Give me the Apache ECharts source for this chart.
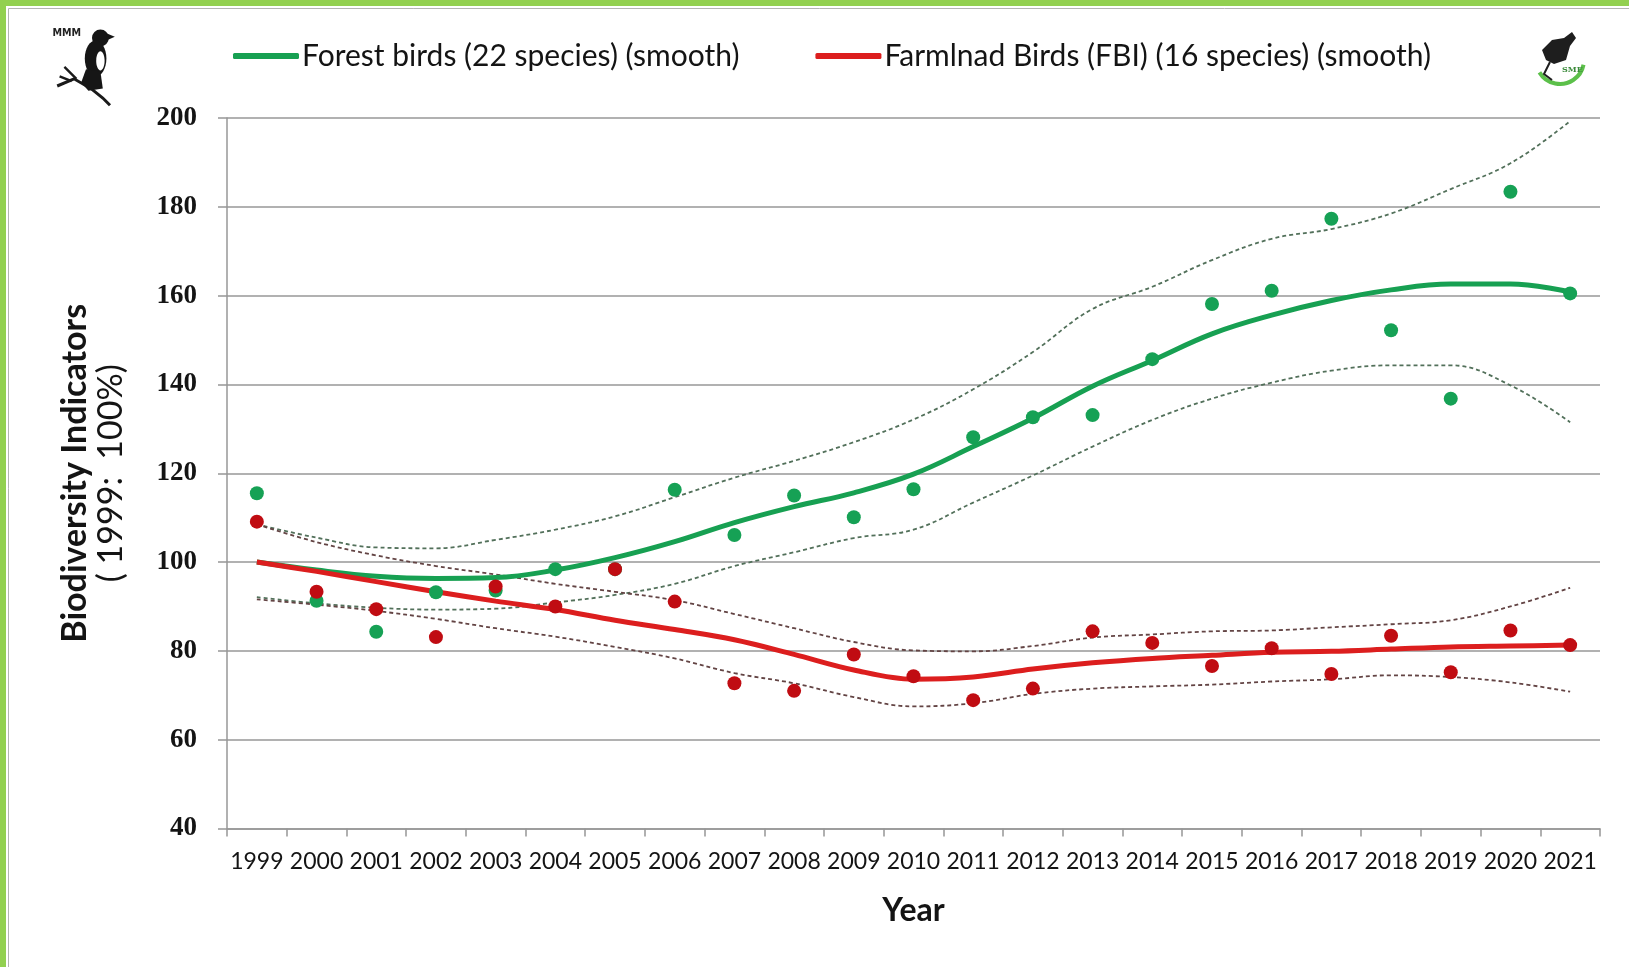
<!DOCTYPE html>
<html>
<head>
<meta charset="utf-8">
<title>Biodiversity Indicators</title>
<script src="https://cdn.jsdelivr.net/npm/echarts@6/dist/echarts.min.js"></script>
<style>
  html, body { margin: 0; padding: 0; background: #ffffff; }
  #chart { width: 1629px; height: 967px; }
</style>
</head>
<body>
<div id="chart"></div>
<script>
// Survey years
const years = ['1999','2000','2001','2002','2003','2004','2005','2006','2007','2008','2009','2010',
               '2011','2012','2013','2014','2015','2016','2017','2018','2019','2020','2021'];

// Forest birds (22 species): yearly index, smoothed trend and its confidence band
const forestIndex = [115.5, 91.3, 84.3, 93.2, 93.6, 98.4, 98.4, 116.3, 106.1, 115.0, 110.1, 116.4,
                     128.1, 132.6, 133.1, 145.7, 158.1, 161.1, 177.3, 152.2, 136.8, 183.4, 160.5];
const forestTrend = [100.0, 98.2, 96.8, 96.3, 96.5, 98.2, 101.0, 104.6, 108.9, 112.5, 115.6, 119.8,
                     126.0, 132.4, 139.6, 145.4, 151.4, 155.6, 158.9, 161.3, 162.6, 162.6, 160.8];
const forestUpper = [108.5, 105.5, 103.3, 103.1, 105.0, 107.3, 110.3, 114.6, 119.0, 122.8, 127.0, 132.1,
                     138.9, 147.3, 157.0, 162.0, 168.0, 172.8, 175.0, 178.5, 184.0, 189.8, 199.3];
const forestLower = [92.1, 90.7, 89.7, 89.3, 89.5, 90.9, 92.6, 95.1, 99.1, 102.2, 105.4, 107.3,
                     113.4, 119.5, 126.0, 132.0, 136.8, 140.4, 143.1, 144.3, 144.3, 139.8, 131.5];

// Farmland birds (FBI, 16 species): yearly index, smoothed trend and its confidence band
const farmIndex = [109.1, 93.3, 89.4, 83.1, 94.5, 90.0, 98.4, 91.1, 72.7, 71.0, 79.2, 74.3,
                   68.9, 71.5, 84.4, 81.8, 76.6, 80.6, 74.8, 83.4, 75.2, 84.6, 81.3];
const farmTrend = [100.0, 97.9, 95.6, 93.3, 91.2, 89.3, 86.9, 84.8, 82.5, 79.2, 75.7, 73.6,
                   74.1, 75.9, 77.3, 78.3, 79.0, 79.7, 79.9, 80.4, 80.9, 81.1, 81.3];
const farmUpper = [108.5, 104.5, 101.5, 99.1, 97.2, 95.1, 93.3, 91.4, 88.3, 85.1, 82.0, 80.1,
                   79.9, 81.1, 83.0, 83.7, 84.4, 84.6, 85.3, 86.0, 86.9, 90.0, 94.2];
const farmLower = [91.6, 90.4, 89.0, 87.2, 85.1, 83.2, 80.9, 78.3, 75.0, 72.7, 69.6, 67.5,
                   68.2, 70.3, 71.5, 72.0, 72.4, 73.1, 73.6, 74.5, 74.1, 72.9, 70.8];

// Value axis ticks
const yMin = 40, yMax = 200, yStep = 20;

const GREEN_LINE = '#17a052';
const GREEN_DOT = '#16a155';
const RED_LINE = '#dc1e1e';
const RED_DOT = '#c00c12';
const GRID_GRAY = '#979797';
const TEXT = '#141414';

const chart = echarts.init(document.getElementById('chart'), null, { renderer: 'canvas' });

// dashed confidence-band line
function bandSeries(name, data, color) {
  return {
    name: name,
    type: 'line',
    data: data,
    smooth: 0.4,
    symbol: 'none',
    silent: true,
    z: 2,
    lineStyle: { color: color, width: 1.8, type: [4, 3] }
  };
}

const option = {
  backgroundColor: '#ffffff',
  animation: false,
  textStyle: { fontFamily: 'Lato, "Liberation Sans", sans-serif' },
  grid: { left: 227, right: 29, top: 118, bottom: 138.5, containLabel: false },
  legend: {
    data: ['Forest birds (22 species) (smooth)', 'Farmlnad Birds (FBI) (16 species) (smooth)'],
    left: 228,
    top: 36,
    icon: 'roundRect',
    itemWidth: 66,
    itemHeight: 6,
    itemGap: 76,
    textStyle: { fontSize: 30, color: TEXT, fontFamily: 'Lato, sans-serif', padding: [0, 0, 0, -2] }
  },
  xAxis: {
    type: 'category',
    data: years,
    boundaryGap: true,
    name: 'Year',
    nameLocation: 'middle',
    nameGap: 66,
    nameTextStyle: { fontSize: 32, fontWeight: 'bold', color: TEXT, fontFamily: 'Lato, sans-serif' },
    axisLine: { show: true, lineStyle: { color: GRID_GRAY, width: 1.5 } },
    axisTick: { show: true, alignWithLabel: false, length: 8, lineStyle: { color: GRID_GRAY, width: 1.5 } },
    axisLabel: { fontSize: 23, color: TEXT, margin: 22, interval: 0, fontFamily: 'Lato, sans-serif' },
    splitLine: { show: false }
  },
  yAxis: {
    type: 'value',
    min: yMin,
    max: yMax,
    interval: yStep,
    name: '{a|Biodiversity Indicators}\n{b|( 1999:  100%)}',
    nameLocation: 'middle',
    nameRotate: 90,
    nameGap: 98,
    nameTextStyle: {
      color: TEXT,
      align: 'center',
      rich: {
        a: { fontSize: 34, fontWeight: 'bold', lineHeight: 36, color: TEXT, fontFamily: 'Lato, sans-serif', align: 'center' },
        b: { fontSize: 34, fontWeight: 'normal', lineHeight: 36, color: TEXT, fontFamily: 'Lato, sans-serif', align: 'center' }
      }
    },
    axisLine: { show: true, lineStyle: { color: GRID_GRAY, width: 1.5 } },
    axisTick: { show: true, length: 9, lineStyle: { color: GRID_GRAY, width: 1.5 } },
    axisLabel: {
      fontSize: 27, fontWeight: 'bold', color: TEXT, margin: 30,
      fontFamily: '"Liberation Serif", "DejaVu Serif", serif'
    },
    splitLine: { show: true, lineStyle: { color: GRID_GRAY, width: 1.5 } }
  },
  series: [
    bandSeries('Forest upper', forestUpper, '#52705a'),
    bandSeries('Forest lower', forestLower, '#52705a'),
    bandSeries('Farmland upper', farmUpper, '#634444'),
    bandSeries('Farmland lower', farmLower, '#634444'),
    {
      name: 'Forest birds (22 species) (smooth)',
      type: 'line',
      data: forestTrend,
      smooth: 0.4,
      symbol: 'none',
      z: 3,
      itemStyle: { color: GREEN_LINE },
      lineStyle: { color: GREEN_LINE, width: 5 }
    },
    {
      name: 'Farmlnad Birds (FBI) (16 species) (smooth)',
      type: 'line',
      data: farmTrend,
      smooth: 0.35,
      symbol: 'none',
      z: 3,
      itemStyle: { color: RED_LINE },
      lineStyle: { color: RED_LINE, width: 5 }
    },
    {
      name: 'Forest birds (22 species)',
      type: 'scatter',
      data: forestIndex,
      symbol: 'circle',
      symbolSize: 14,
      z: 4,
      itemStyle: { color: GREEN_DOT, opacity: 1 }
    },
    {
      name: 'Farmland birds (16 species)',
      type: 'scatter',
      data: farmIndex,
      symbol: 'circle',
      symbolSize: 14,
      z: 5,
      itemStyle: { color: RED_DOT, opacity: 1 }
    }
  ],
  graphic: [
    // page frame
    { type: 'rect', shape: { x: 0, y: 0, width: 1629, height: 6 }, style: { fill: '#92d050' }, z: 10, silent: true },
    { type: 'rect', shape: { x: 0, y: 0, width: 6, height: 967 }, style: { fill: '#92d050' }, z: 10, silent: true },
    { type: 'rect', shape: { x: 8.5, y: 8.5, width: 1640, height: 1000 }, style: { fill: null, stroke: '#b4b4b4', lineWidth: 1 }, z: 10, silent: true },
    // society emblem, top left
    {
      type: 'group', x: 50, y: 26, scaleX: 1.2, scaleY: 1.2, silent: true,
      children: [
        { type: 'text', x: 2, y: 2, style: { text: 'MMM', fontSize: 8, fontWeight: 'bold', fill: '#222', fontFamily: 'DejaVu Sans' } },
        { type: 'polyline', shape: { points: [[6, 50], [20, 44], [34, 52], [44, 60], [50, 66]] }, style: { stroke: '#1a1a1a', lineWidth: 2.5, fill: null } },
        { type: 'polyline', shape: { points: [[12, 34], [22, 44]] }, style: { stroke: '#1a1a1a', lineWidth: 2, fill: null } },
        { type: 'polyline', shape: { points: [[8, 42], [18, 46]] }, style: { stroke: '#1a1a1a', lineWidth: 2, fill: null } },
        { type: 'circle', shape: { cx: 42, cy: 10, r: 7 }, style: { fill: '#161616' } },
        { type: 'polygon', shape: { points: [[47, 6], [54, 9], [47, 12]] }, style: { fill: '#161616' } },
        { type: 'ellipse', shape: { cx: 38, cy: 27, rx: 9, ry: 15 }, style: { fill: '#161616' } },
        { type: 'ellipse', shape: { cx: 42, cy: 29, rx: 3.5, ry: 8 }, style: { fill: '#ffffff' } },
        { type: 'polygon', shape: { points: [[30, 36], [42, 38], [44, 52], [32, 54], [26, 47]] }, style: { fill: '#161616' } }
      ]
    },
    // partner emblem, top right
    {
      type: 'group', x: 1532, y: 30, silent: true,
      children: [
        { type: 'arc', shape: { cx: 28, cy: 30, r: 24, startAngle: 0.2, endAngle: 2.6 }, style: { stroke: '#5cc04a', lineWidth: 4, fill: null } },
        { type: 'polygon', shape: { points: [[10, 20], [20, 10], [32, 8], [40, 2], [44, 8], [38, 16], [34, 30], [22, 34], [14, 30]] }, style: { fill: '#1e1e1e' } },
        { type: 'polyline', shape: { points: [[18, 32], [12, 44], [20, 50]] }, style: { stroke: '#1e1e1e', lineWidth: 2, fill: null } },
        { type: 'text', x: 30, y: 36, style: { text: 'SME', fontSize: 8, fontWeight: 'bold', fill: '#3a8a3a', fontFamily: 'DejaVu Serif' } }
      ]
    }
  ]
};

chart.setOption(option);
</script>
</body>
</html>
